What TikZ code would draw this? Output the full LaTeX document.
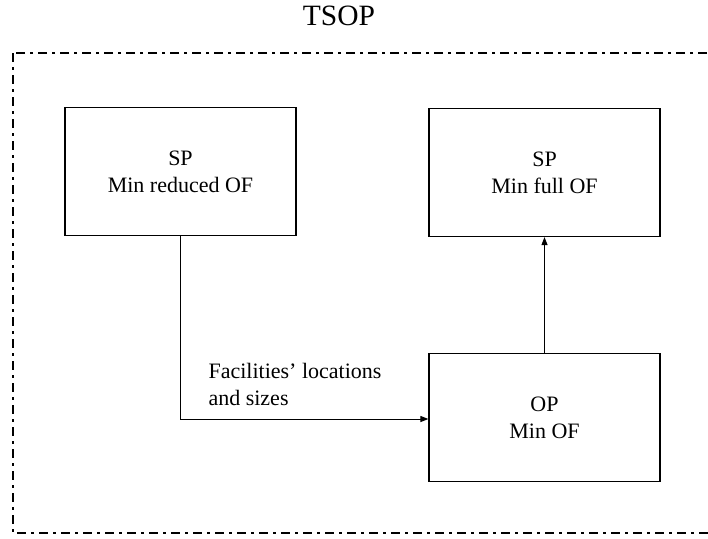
\documentclass[tikz,border=0pt]{standalone}
\usepackage{fontspec}
\setmainfont{Liberation Serif}
\usetikzlibrary{arrows.meta}
\begin{document}
\begin{tikzpicture}[x=1pt,y=-1pt,
  stage/.style={draw, line width=1.2pt, minimum width=231pt, minimum height=128pt,
    align=center, font=\fontsize{22}{27}\selectfont, inner sep=0pt},
  flow/.style={line width=1pt, -{Triangle[length=8pt,width=6pt]}}]
  \useasboundingbox (0,0) rectangle (708,538);
  % outer dash-dot frame, open to the right
  \begin{scope}
    \clip (0,0) rectangle (708,538);
    \draw[line width=2.6pt, dash pattern=on 9pt off 5pt on 3pt off 5pt]
      (13,53) rectangle (760,533);
  \end{scope}
  \node[font=\fontsize{29.5}{34}\selectfont] (title) at (339,16) {TSOP};
  \node[stage] (spred) at (180.5,171.5) {SP\\Min reduced OF};
  \node[stage] (spfull) at (544.5,172.5) {SP\\Min full OF};
  \node[stage] (op) at (544.5,417.5) {OP\\Min OF};
  \coordinate (bend) at (spred.south |- 0,419);
  \draw[flow] (spred.south) -- (bend) -- (bend -| op.west);
  \draw[flow] (op.north) -- (spfull.south);
  \node[anchor=west, align=left, font=\fontsize{22}{27}\selectfont] (lbl) at (205,384)
    {Facilities’ locations\\and sizes};
\end{tikzpicture}
\end{document}
